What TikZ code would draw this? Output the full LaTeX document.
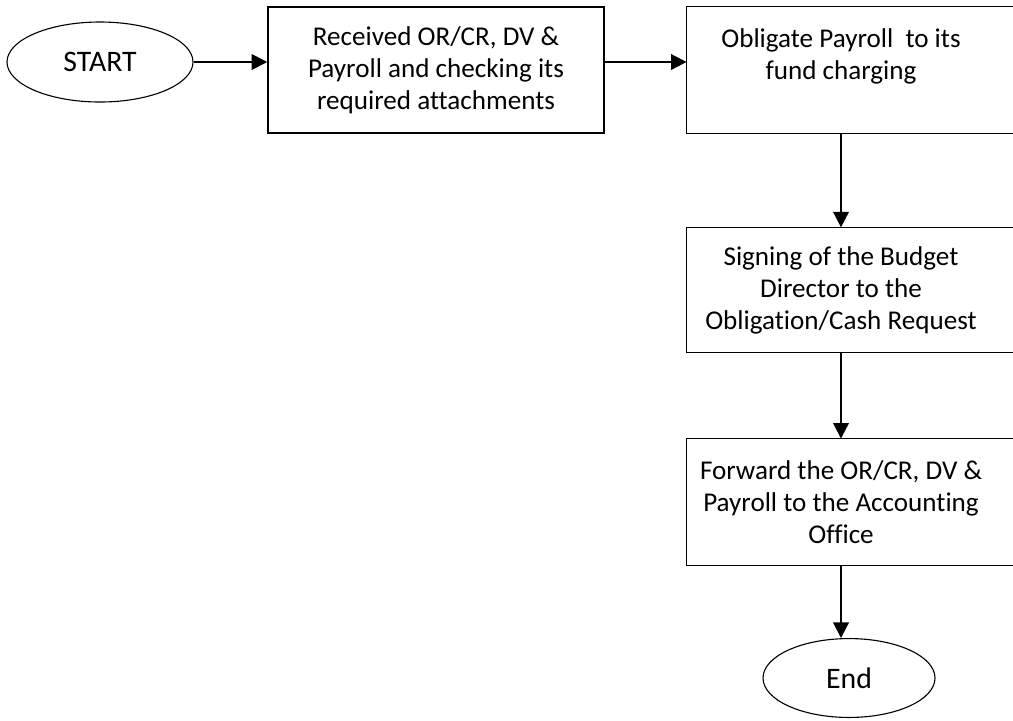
\documentclass[tikz,border=0pt]{standalone}
\usepackage{fontspec}
\setmainfont{Carlito}[Ligatures=NoCommon]
\usetikzlibrary{shapes.geometric,arrows.meta}

\tikzset{
  oval/.style={ellipse, draw, line width=0.5pt, inner sep=0pt,
               font=\fontsize{13.4}{16}\selectfont},
  stepbox/.style={rectangle, draw, line width=0.7pt, align=center, inner sep=0pt,
                  minimum height=56.7pt},
  openbox/.style={rectangle, align=center, inner sep=0pt,
                  minimum width=138.6pt, minimum height=56.7pt},
  flow/.style={line width=0.9pt, -{Triangle[length=7pt,width=7pt]}}
}

\begin{document}
\begin{tikzpicture}[x=0.45pt, y=-0.45pt, font=\fontsize{12.2}{14.4}\selectfont]
            \useasboundingbox (0,0) rectangle (1013,720);
            \clip (0,0) rectangle (1013,720);
            \node[oval, minimum width=83.7pt, minimum height=36pt] (start) at (100, 62) {START};
            \node[stepbox, minimum width=151.2pt] (received) at (436, 70)
                {Received OR/CR, DV \&\\Payroll and checking its\\required attachments};
            \node[openbox] (obligate) at (841, 70) {Obligate Payroll\ \ to its\\fund charging\\~};
            \node[openbox, minimum height=56pt] (signing) at (841, 290)
                {Signing of the Budget\\Director to the\\Obligation/Cash Request};
            \node[openbox] (forward) at (841, 502)
                {Forward the OR/CR, DV \&\\Payroll to the Accounting\\Office};
            \node[oval, minimum width=77.4pt, minimum height=35.5pt] (finish) at (849, 678) {End};
            % boxes run past the right edge
            \foreach \stepname in {obligate, signing, forward}
                \draw[line width=0.7pt] (\stepname.south west) rectangle ([xshift=40pt]\stepname.north east);
            \draw[flow] (start.east) -- (start.east -| received.west);
            \draw[flow] (received.east |- start.east) -- (obligate.west |- start.east);
            \draw[flow] (obligate.south) -- (signing.north);
            \draw[flow] (signing.south) -- (forward.north);
            \draw[flow] (forward.south) -- (forward.south |- finish.north);
        \end{tikzpicture}
\end{document}
